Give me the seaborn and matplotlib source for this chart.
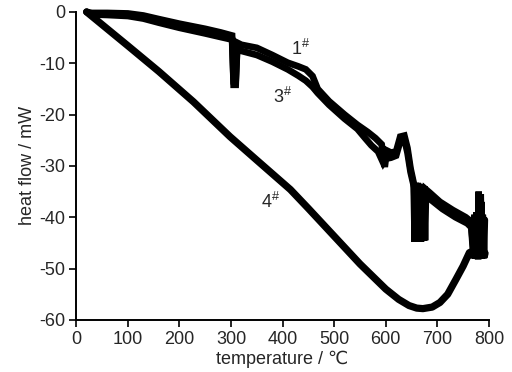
import seaborn as sns
import matplotlib.pyplot as plt

# sample 1#
temp_1 = [20, 30, 60, 100, 130, 160, 200, 250, 280, 302, 305, 309, 312, 320, 350, 380,
          410, 430, 445, 458, 468, 490, 520, 545, 565, 580, 592, 598, 602, 610, 620,
          628, 636, 642, 648, 654, 656, 658, 660, 662, 664, 666, 668, 670, 672, 674, 676, 678,
          685, 705, 730, 755, 765, 770, 772, 774, 776, 778, 780, 782, 784, 786, 788, 790, 792]
heat_1 = [0, -0.2, -0.2, -0.3, -0.7, -1.4, -2.3, -3.3, -4.0, -4.6, -14.2, -14.2, -6.0, -6.4, -7.0, -8.4,
          -9.9, -10.6, -11.2, -12.5, -15.0, -17.4, -20.0, -22.0, -23.4, -24.6, -25.8, -30.2, -27.0, -27.4, -27.2,
          -24.3, -24.1, -26.5, -30.5, -33.3, -44.8, -33.3, -44.8, -33.3, -44.8, -33.5, -44.8, -33.8, -44.6,
          -34.0, -44.5, -34.6, -35.2, -37.0, -38.6, -40.0, -40.8, -48.0, -39.5, -48.0, -39.0, -48.0, -35.0,
          -48.0, -35.5, -48.0, -39.5, -48.0, -40.5]

# sample 3#
temp_3 = [20, 30, 60, 100, 130, 160, 200, 250, 280, 302, 305, 309, 312, 320, 350, 380,
          410, 430, 445, 458, 468, 490, 520, 545, 560, 572, 585, 595, 600, 610, 620,
          628, 636, 642, 648, 655, 657, 659, 661, 663, 665, 667, 669, 671, 673, 675, 679,
          690, 710, 735, 758, 766, 771, 773, 775, 777, 779, 781, 783, 785, 787, 789, 791, 793]
heat_3 = [0, -0.5, -0.6, -0.8, -1.3, -2.1, -3.1, -4.2, -4.9, -5.4, -13.5, -13.5, -7.2, -7.6, -8.4, -9.7,
          -11.2, -12.4, -13.4, -14.6, -15.8, -18.1, -20.8, -22.8, -24.6, -26.0, -27.2, -29.4, -28.6, -28.4, -28.0,
          -25.2, -24.8, -27.4, -31.2, -34.2, -44.0, -34.2, -44.5, -34.5, -44.5, -34.8, -44.5, -35.0, -44.2,
          -35.5, -36.0, -36.8, -38.4, -40.0, -41.2, -42.0, -47.5, -40.0, -47.8, -39.5, -48.2, -36.0, -48.0,
          -37.0, -48.0, -40.5, -47.8, -47.0]

# sample 4#
temp_4 = [20, 60, 100, 160, 227, 298, 349, 415, 450, 500, 550, 600, 625, 645, 660, 672,
          690, 705, 720, 736, 750, 762, 775, 785]
heat_4 = [0, -3.3, -6.6, -11.6, -17.5, -24.3, -28.8, -34.6, -38.3, -43.7, -49.1, -54.0, -56.0, -57.2, -57.7, -57.8,
          -57.5, -56.6, -55.0, -52.1, -49.5, -46.9, -46.3, -47.0]

x_ticks = [0, 100, 200, 300, 400, 500, 600, 700, 800]
y_ticks = [-60, -50, -40, -30, -20, -10, 0]

sns.set_style("ticks")
plt.rcParams["font.family"] = ["Liberation Sans", "DejaVu Sans"]
plt.rcParams["axes.unicode_minus"] = False
plt.rcParams["mathtext.default"] = "regular"
fsize = 13

fig = plt.figure(figsize=(5.12, 3.72), dpi=100)
ax = fig.add_axes([0.149, 0.140, 0.806, 0.828])

sns.lineplot(x=temp_4, y=heat_4, ax=ax, color="black", linewidth=5.2, sort=False,
             estimator=None, clip_on=False)
for t, h in [(temp_1, heat_1), (temp_3, heat_3)]:
    sns.lineplot(x=t, y=h, ax=ax, color="black", linewidth=4.8, sort=False,
                 estimator=None, clip_on=False, solid_joinstyle="miter")

ax.set_xlim(0, 800)
ax.set_ylim(-60, 0)
ax.set_xticks(x_ticks)
ax.set_yticks(y_ticks)
ax.tick_params(direction="out", length=5, width=1.2, pad=3, labelsize=fsize, color="black")
for s in ["left", "bottom"]:
    ax.spines[s].set_linewidth(1.4)
    ax.spines[s].set_color("black")
sns.despine(ax=ax)

ax.set_xlabel("temperature / \u2103", fontsize=fsize, labelpad=2)
ax.set_ylabel("heat flow / mW", fontsize=fsize, labelpad=2)

ax.text(416, -8.4, r"1$^{\#}$", fontsize=fsize, va="baseline")
ax.text(382, -17.7, r"3$^{\#}$", fontsize=fsize, va="baseline")
ax.text(358, -38.2, r"4$^{\#}$", fontsize=fsize, va="baseline")

fig.savefig("out.png", dpi=100)
